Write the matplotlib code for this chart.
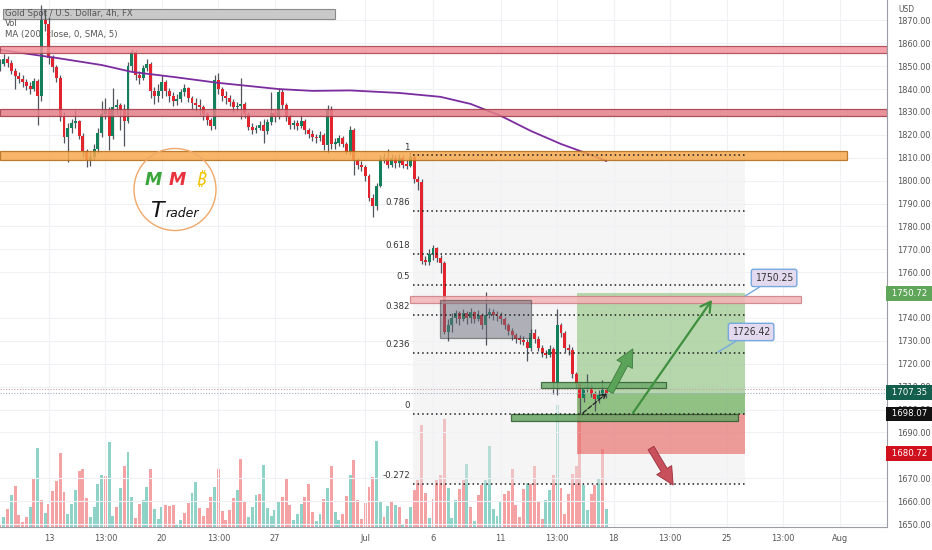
import matplotlib.pyplot as plt
import numpy as np
from matplotlib.patches import Ellipse, Rectangle
from matplotlib.transforms import blended_transform_factory

plt.rcParams["font.family"] = ["Liberation Sans Narrow", "DejaVu Sans"]
plt.rcParams["font.stretch"] = "condensed"

# Gold spot 4h candles (bar 0 sits on the left edge)
FIRST_OPEN = 1849.0
CLOSE = [
    1851.0, 1853.0, 1851.5, 1848.0, 1845.5, 1844.5, 1843.0, 1841.5, 1840.0, 1843.5,
    1837.0, 1870.0, 1868.5, 1853.5, 1849.5, 1845.0, 1828.0, 1819.0, 1823.0, 1825.0,
    1826.0, 1819.5, 1813.0, 1809.0, 1810.5, 1814.0, 1821.0, 1829.0, 1831.0, 1819.5,
    1832.0, 1833.0, 1831.0, 1826.0, 1850.0, 1856.0, 1846.0, 1845.0, 1849.0, 1851.0,
    1839.0, 1837.0, 1839.0, 1843.0, 1839.0, 1837.0, 1835.0, 1835.5, 1838.5, 1840.5,
    1836.0, 1834.0, 1833.0, 1832.0, 1829.0, 1826.5, 1824.0, 1844.0, 1840.0, 1837.0,
    1836.0, 1834.5, 1832.0, 1832.5, 1833.5, 1829.0, 1823.5, 1822.0, 1823.0, 1824.5,
    1821.5, 1825.5, 1829.5, 1828.0, 1838.5, 1833.0, 1828.0, 1824.5, 1825.0, 1824.0,
    1826.0, 1822.0, 1820.5, 1819.0, 1818.5, 1820.0, 1815.5, 1831.5, 1816.0, 1816.5,
    1818.5, 1816.0, 1812.5, 1822.0, 1809.0, 1807.0, 1806.0, 1802.0, 1792.5, 1789.0,
    1797.5, 1809.5, 1810.0, 1807.0, 1810.0, 1807.5, 1810.0, 1807.0, 1806.5, 1810.5,
    1800.5, 1799.5, 1765.0, 1764.5, 1768.0, 1770.5, 1766.0, 1764.0, 1734.0, 1737.0,
    1740.0, 1742.0, 1739.5, 1742.0, 1740.0, 1742.5, 1739.5, 1741.5, 1737.0, 1741.5,
    1742.5, 1741.5, 1741.0, 1739.5, 1737.0, 1734.5, 1732.5, 1731.0, 1730.5, 1729.5,
    1727.0, 1733.5, 1731.0, 1727.0, 1724.5, 1724.0, 1726.5, 1711.5, 1737.0, 1733.5,
    1727.0, 1726.0, 1715.5, 1711.0, 1705.0, 1709.0, 1710.0, 1707.0, 1704.5, 1706.5,
    1708.5, 1707.35,
]
HIGH = [
    1853.0, 1855.5, 1854.5, 1852.5, 1849.0, 1847.5, 1846.0, 1844.5, 1843.0, 1845.0,
    1844.5, 1876.5, 1875.0, 1871.5, 1855.0, 1850.5, 1846.0, 1830.0, 1825.0, 1827.0,
    1831.0, 1826.5, 1821.0, 1814.0, 1813.0, 1816.0, 1823.0, 1835.0, 1836.0, 1832.0,
    1840.5, 1835.5, 1834.0, 1833.5, 1852.0, 1857.5, 1857.0, 1848.0, 1850.5, 1853.0,
    1852.0, 1841.0, 1842.0, 1846.0, 1844.0, 1840.5, 1838.5, 1838.0, 1840.0, 1842.0,
    1841.0, 1837.0, 1836.0, 1835.5, 1833.0, 1830.0, 1827.5, 1846.0, 1847.0, 1841.0,
    1839.0, 1837.5, 1835.5, 1834.5, 1845.0, 1834.5, 1830.0, 1825.0, 1824.5, 1826.0,
    1827.0, 1827.0, 1838.5, 1831.0, 1840.5, 1840.0, 1834.0, 1829.0, 1826.5, 1826.5,
    1828.5, 1827.0, 1823.0, 1822.0, 1820.5, 1821.5, 1821.0, 1833.0, 1832.5, 1818.5,
    1820.0, 1819.5, 1817.0, 1824.0, 1823.0, 1810.0, 1808.5, 1807.0, 1803.0, 1794.0,
    1799.0, 1811.0, 1812.0, 1814.0, 1811.5, 1811.0, 1811.5, 1811.0, 1809.0, 1812.5,
    1811.5, 1802.0, 1800.5, 1767.0, 1770.0, 1772.0, 1771.0, 1767.5, 1765.0, 1739.5,
    1742.0, 1743.5, 1743.0, 1744.0, 1743.0, 1744.5, 1743.0, 1743.5, 1742.0, 1751.5,
    1744.5, 1744.0, 1743.0, 1742.5, 1740.5, 1738.0, 1735.5, 1733.5, 1732.5, 1732.0,
    1731.0, 1735.0, 1735.0, 1732.0, 1728.0, 1726.0, 1728.0, 1727.5, 1744.0, 1738.0,
    1734.5, 1728.5, 1727.5, 1716.5, 1712.0, 1710.5, 1715.5, 1711.0, 1708.0, 1708.5,
    1713.0, 1709.5,
]
LOW = [
    1848.0, 1850.0, 1849.5, 1846.5, 1840.0, 1842.5, 1841.0, 1839.5, 1838.0, 1839.0,
    1824.5, 1835.0, 1865.5, 1851.0, 1847.5, 1843.0, 1826.0, 1816.5, 1808.0, 1821.0,
    1823.0, 1818.0, 1810.5, 1806.0, 1806.5, 1809.0, 1812.0, 1819.0, 1827.0, 1813.5,
    1818.0, 1829.0, 1822.0, 1815.0, 1825.0, 1848.0, 1844.0, 1842.0, 1844.0, 1848.0,
    1836.0, 1833.5, 1834.5, 1836.0, 1837.0, 1834.5, 1832.5, 1833.0, 1834.5, 1837.0,
    1834.5, 1831.5, 1830.5, 1828.5, 1826.5, 1824.5, 1822.0, 1822.5, 1838.0, 1835.0,
    1833.5, 1832.5, 1830.0, 1830.5, 1827.0, 1827.5, 1822.0, 1820.5, 1821.0, 1822.0,
    1816.5, 1820.5, 1824.5, 1825.5, 1827.0, 1831.5, 1826.0, 1822.5, 1822.5, 1822.0,
    1823.0, 1820.5, 1818.5, 1817.5, 1816.5, 1817.5, 1813.5, 1812.0, 1814.0, 1814.0,
    1815.0, 1814.5, 1811.5, 1811.0, 1802.5, 1805.0, 1804.0, 1800.0, 1791.0, 1784.0,
    1787.0, 1797.0, 1807.5, 1805.5, 1806.0, 1805.5, 1806.0, 1805.5, 1805.0, 1806.0,
    1799.0, 1796.0, 1763.5, 1763.0, 1763.0, 1765.5, 1764.5, 1759.5, 1733.0, 1730.0,
    1734.0, 1738.0, 1737.0, 1738.5, 1737.5, 1738.0, 1738.0, 1738.5, 1735.0, 1728.0,
    1740.0, 1739.0, 1738.5, 1737.5, 1735.0, 1732.5, 1730.5, 1729.0, 1728.5, 1728.0,
    1721.0, 1725.5, 1729.0, 1725.5, 1723.0, 1722.5, 1723.0, 1707.0, 1706.5, 1731.5,
    1725.0, 1724.0, 1714.0, 1709.5, 1698.0, 1703.5, 1707.5, 1705.5, 1699.5, 1703.0,
    1705.5, 1705.0,
]
# volume in relative units (pixel height in the screenshot), u = up bar, d = down bar
VOLUME = [
    3, 10, 18, 32, 41, 12, 5, 10, 20, 48,
    79, 27, 14, 23, 36, 46, 74, 35, 13, 23,
    37, 56, 58, 29, 10, 20, 43, 52, 51, 85,
    11, 20, 39, 61, 75, 30, 9, 23, 27, 40,
    58, 18, 8, 20, 22, 21, 22, 3, 7, 14,
    24, 34, 45, 19, 11, 19, 30, 40, 58, 16,
    7, 17, 29, 37, 68, 26, 10, 20, 32, 33,
    62, 19, 11, 17, 25, 30, 48, 22, 7, 13,
    23, 30, 43, 15, 6, 13, 28, 39, 61, 15,
    7, 13, 31, 52, 67, 27, 8, 24, 40, 50,
    86, 25, 10, 21, 25, 22, 20, 2, 8, 20,
    37, 47, 102, 34, 9, 28, 47, 52, 108, 39,
    9, 27, 38, 47, 63, 20, 6, 32, 42, 47,
    81, 18, 11, 25, 33, 36, 58, 22, 10, 38,
    44, 43, 61, 25, 8, 27, 37, 52, 122, 39,
    13, 33, 53, 61, 133, 42, 17, 33, 42, 48,
    78, 18,
]
VOL_DIR = ("dududdddud" "ududdddduu" "uddduuuudu" "ududuudduu" "duuuddduud"
           "duuddddudd" "dddudduuud" "uuuuuddduu" "uddduududu" "uddudddddd"
           "uududududu" "dddduddddu" "uuddududdu" "uuuudddddd" "udddduudud"
           "ddddduuddu" "du")

MA_BARS = [0, 15, 27, 35, 46, 58, 74, 83, 93, 106, 117, 125, 133, 141, 149, 157, 161]
MA_VALUES = [1857.1, 1853.6, 1850.5, 1847.5, 1845.3, 1842.7, 1840.0, 1839.2, 1839.4,
             1838.3, 1836.6, 1833.5, 1828.3, 1821.7, 1816.0, 1811.2, 1808.6]

TICK_BARS = [13, 28, 43, 58, 73, 97, 115, 133, 148, 163, 178, 193, 208, 223]
TICK_LABELS = ["13", "13:00", "20", "13:00", "27", "Jul", "6", "11", "13:00", "18",
               "13:00", "25", "13:00", "Aug"]
# 1750 and 1680 sit fully under the price tags, so they are not labelled
PRICE_TICKS = [1650, 1660, 1670, 1690, 1700, 1710, 1720, 1730, 1740, 1760, 1770,
               1780, 1790, 1800, 1810, 1820, 1830, 1840, 1850, 1860, 1870]

FIB_TOP, FIB_BOTTOM = 1811.0, 1698.07
FIB_RATIOS = [1, 0.786, 0.618, 0.5, 0.382, 0.236, 0, -0.272]
FIB_NAMES = ["1", "0.786", "0.618", "0.5", "0.382", "0.236", "0", "-0.272"]

ENTRY, TARGET, STOP, LAST = 1698.07, 1750.72, 1680.72, 1707.35

BAR_PX = 3.765
W_AX, H_AX = 887, 527
XMAX = W_AX / BAR_PX
YMIN, YMAX = 1648.7, 1878.9

UP, DOWN, WICK = "#13805c", "#e2242f", "#50545e"


def frac(px, py):
    """screenshot pixel inside the plot area -> axes fraction"""
    return px / W_AX, 1 - py / H_AX


fig = plt.figure(figsize=(9.32, 5.5), dpi=100, facecolor="white")
rect = [0, 23 / 550, W_AX / 932, H_AX / 550]
vax = fig.add_axes(rect, zorder=0)
ax = fig.add_axes(rect, zorder=1)
ax.set_facecolor("none")

x = np.arange(len(CLOSE))
close = np.array(CLOSE)
opens = np.r_[FIRST_OPEN, close[:-1]]

# volume pane
vcol = ["#8fd2c7" if d == "u" else "#f5a2a4" for d in VOL_DIR]
vax.bar(x, VOLUME, width=0.78, color=vcol, lw=0)
vax.set_xlim(0, XMAX)
vax.set_ylim(0, H_AX)
vax.axis("off")

# price axes
ax.set_xlim(0, XMAX)
ax.set_ylim(YMIN, YMAX)
ax.grid(True, color="#eff1f5", lw=0.8, zorder=0)
for s in ("top", "left"):
    ax.spines[s].set_visible(False)
ax.spines["right"].set_color("#9a9da6")
ax.spines["bottom"].set_color("#9a9da6")
ax.yaxis.tick_right()
ax.set_yticks(PRICE_TICKS, [f"{v:.2f}" for v in PRICE_TICKS])
ax.set_xticks(TICK_BARS, TICK_LABELS)
ax.tick_params(axis="y", length=0, pad=7, labelsize=6.6, labelcolor="#555")
ax.tick_params(axis="x", length=0, pad=5, labelsize=6.6, labelcolor="#555")

# fib retracement
fib_rng = FIB_TOP - FIB_BOTTOM
fib_prices = [FIB_BOTTOM + r * fib_rng for r in FIB_RATIOS]
FIB_X0, FIB_X1 = 109.7, 197.9
ax.add_patch(Rectangle((FIB_X0, fib_prices[-1]), FIB_X1 - FIB_X0, FIB_TOP - fib_prices[-1],
                       fc="#e9e9e9", alpha=0.45, lw=0, zorder=1))

# long position tool
POS_X0 = 153.3
ax.add_patch(Rectangle((POS_X0, ENTRY), FIB_X1 - POS_X0, TARGET - ENTRY,
                       fc="#5fae47", alpha=0.42, lw=0, zorder=2))
ax.add_patch(Rectangle((POS_X0, ENTRY), FIB_X1 - POS_X0, LAST - ENTRY,
                       fc="#4f9a3a", alpha=0.35, lw=0, zorder=2))
ax.add_patch(Rectangle((POS_X0, STOP), FIB_X1 - POS_X0, ENTRY - STOP,
                       fc="#e53935", alpha=0.48, lw=0, zorder=2))

# candles
ccol = [UP if c >= o else DOWN for o, c in zip(opens, close)]
ax.vlines(x, LOW, HIGH, colors=WICK, lw=0.9, zorder=3)
ax.bar(x, np.maximum(np.abs(close - opens), 0.7), bottom=np.minimum(opens, close),
       width=0.78, color=ccol, lw=0, zorder=4)

# moving average
ax.plot(MA_BARS, MA_VALUES, color="#7b2c9e", lw=1.3, zorder=5)

# horizontal zones
zones = [
    (0, XMAX, 1855.8, 1858.8, "#f1939a", "#a8424e"),
    (0, XMAX, 1828.3, 1831.3, "#e57f89", "#a03a47"),
    (0, 225.0, 1809.0, 1813.0, "#f7a94f", "#b06a18"),
    (108.9, 212.7, 1746.6, 1749.6, "#f6b3b6", "#c98086"),
    (143.7, 176.9, 1709.4, 1712.0, "#6fab6d", "#2f5f30"),
    (135.7, 196.0, 1695.0, 1698.1, "#67a565", "#2d5a2d"),
]
for x0, x1, lo, hi, fc, ec in zones:
    ax.add_patch(Rectangle((x0, lo), x1 - x0, hi - lo, fc=fc, ec=ec, lw=0.9,
                           alpha=0.85, zorder=6))
ax.add_patch(Rectangle((116.9, 1731.3), 141.0 - 116.9, 1747.9 - 1731.3,
                       fc="#6a6d7a", ec="#333", lw=0.9, alpha=0.5, zorder=6))

ax.hlines(fib_prices, FIB_X0, FIB_X1, colors="#1e1e1e", linestyles=(0, (1, 2)),
          lw=1.1, zorder=7)
for p, name in zip(fib_prices, FIB_NAMES):
    ax.annotate(name, (FIB_X0, p), xytext=(-2, 6), textcoords="offset points",
                ha="right", va="center", fontsize=6.8, color="#333", zorder=7)

# last price lines
ax.axhline(1709.0, color="#c9a3ab", lw=0.8, ls=(0, (1, 1.5)), zorder=5)
ax.axhline(LAST, color="#9eb2cc", lw=0.8, ls=(0, (1, 1.5)), zorder=5)

# arrows
ax.annotate("", xy=(189.1, 1747.9), xytext=(168.1, 1698.5),
            arrowprops=dict(arrowstyle="->,head_length=0.7,head_width=0.4",
                            color="#3f8f3f", lw=1.6, shrinkA=0, shrinkB=0), zorder=8)
ax.annotate("", xy=(168.1, 1726.5), xytext=(162.0, 1707.7),
            arrowprops=dict(arrowstyle="simple,head_length=0.9,head_width=0.9,tail_width=0.35",
                            fc="#5ca35a", ec="#3d7d3b", lw=0.6, mutation_scale=14,
                            shrinkA=0, shrinkB=0), zorder=8)
ax.annotate("", xy=(178.8, 1667.0), xytext=(172.9, 1683.2),
            arrowprops=dict(arrowstyle="simple,head_length=0.9,head_width=0.9,tail_width=0.35",
                            fc="#c8505c", ec="#99303c", lw=0.6, mutation_scale=14,
                            shrinkA=0, shrinkB=0), zorder=8)
ax.annotate("", xy=(161.2, 1707.2), xytext=(154.8, 1698.5),
            arrowprops=dict(arrowstyle="->", color="#222", lw=0.9, ls="--",
                            shrinkA=0, shrinkB=0), zorder=8)

# callouts
for text, box, tip in [("1750.25", (205.6, 1757.5), (197.9, 1749.6)),
                       ("1726.42", (199.5, 1733.9), (190.7, 1725.1))]:
    ax.annotate(text, xy=tip, xytext=box, ha="center", va="center", fontsize=7.5,
                color="#333", zorder=9,
                bbox=dict(boxstyle="round,pad=0.35,rounding_size=0.2", fc="#e4daf0",
                          ec="#76a9de", lw=1),
                arrowprops=dict(arrowstyle="-", color="#76a9de", lw=1,
                                shrinkA=0, shrinkB=0))

# price tags on the right scale
tag_tr = blended_transform_factory(ax.transAxes, ax.transData)
for val, fc in [(TARGET, "#5fa65a"), (LAST, "#135e4c"), (ENTRY, "#111111"),
                (STOP, "#d1101e")]:
    ax.text(1.002, val, f" {val:.2f} ", transform=tag_tr, ha="left", va="center",
            fontsize=6.8, color="white", zorder=20, clip_on=False,
            bbox=dict(boxstyle="square,pad=0.3", fc=fc, ec="none"))
ax.text(*frac(898, 9), "USD", transform=ax.transAxes, fontsize=6, color="#555",
        ha="left", va="center", clip_on=False)

# header texts
ax.add_patch(Rectangle(frac(3, 19), 332 / W_AX, 10 / H_AX, transform=ax.transAxes,
                       fc="#c9c9c9", ec="#8a8a8a", lw=0.8, zorder=2))
ax.text(*frac(5, 13), "Gold Spot / U.S. Dollar, 4h, FX", transform=ax.transAxes,
        fontsize=6.8, color="#555", va="center", zorder=2.5)
ax.text(*frac(5, 23), "Vol", transform=ax.transAxes, fontsize=6.8, color="#555",
        va="center")
ax.text(*frac(5, 35), "MA (200, close, 0, SMA, 5)", transform=ax.transAxes,
        fontsize=6.8, color="#555", va="center")

# logo
ax.add_patch(Ellipse(frac(175, 189.5), 82 / W_AX, 82 / H_AX, transform=ax.transAxes,
                     fill=False, ec="#f0a868", lw=1, zorder=9))
for ch, px, col in [("M", 153, "#3aa63a"), ("M", 177, "#e8333c"), ("₿", 201, "#f0c400")]:
    ax.text(*frac(px, 180), ch, transform=ax.transAxes, fontsize=12.5, color=col,
            fontweight="bold", fontstyle="italic", ha="center", va="center", zorder=9,
            family=["DejaVu Sans", "Noto Sans"], fontstretch="normal")
ax.text(*frac(157, 211), "T", transform=ax.transAxes, fontsize=16, fontstyle="italic",
        color="#111", ha="center", va="center", zorder=9, family="DejaVu Sans",
        fontstretch="normal")
ax.text(*frac(166, 214), "rader", transform=ax.transAxes, fontsize=9, fontstyle="italic",
        color="#111", ha="left", va="center", zorder=9, family="DejaVu Sans",
        fontstretch="normal")

fig.savefig("out.png", dpi=100, facecolor="white")
